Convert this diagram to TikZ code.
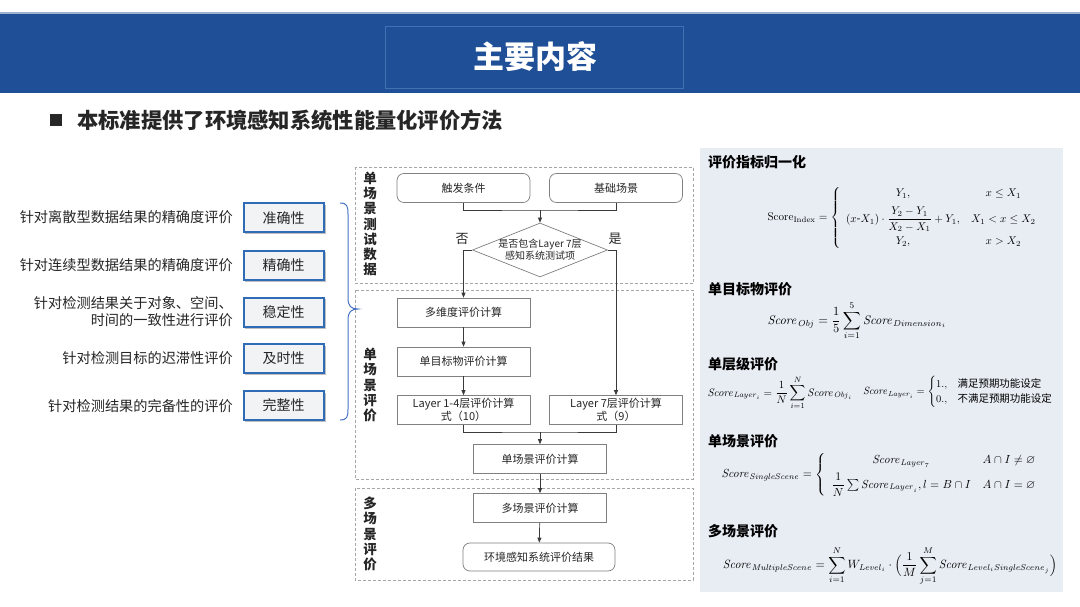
\documentclass[tikz,border=0pt]{standalone}
\usepackage[no-math]{fontspec}
\setmainfont{Noto Sans CJK SC}
\usepackage{amsmath,amssymb}
\usepackage{graphicx}
\usetikzlibrary{arrows.meta,shapes.geometric}
\definecolor{hdrblue}{HTML}{1F4F96}
\definecolor{hdrline}{HTML}{4270B3}
\definecolor{hdrtop}{HTML}{9DB3D3}
\definecolor{boxblue}{HTML}{2F6CB5}
\definecolor{boxfill}{HTML}{F2F3F5}
\definecolor{bracecol}{HTML}{4472C4}
\definecolor{panel}{HTML}{E8EDF4}
\definecolor{flowline}{HTML}{3A3A3A}
\definecolor{flowedge}{HTML}{808080}
\definecolor{dashcol}{HTML}{A6A6A6}
\definecolor{txt}{HTML}{262626}
\begin{document}
\begin{tikzpicture}[x=1pt,y=-1pt,
  fbox/.style={draw=flowedge, fill=white, line width=0.7pt, minimum width=133pt, minimum height=29pt, inner sep=1pt, font=\fontsize{11}{13}\selectfont, align=center, text=txt},
  frnd/.style={fbox, rounded corners=7pt},
  lbox/.style={draw=boxblue, line width=2pt, fill=boxfill, minimum width=80pt, minimum height=29pt, font=\fontsize{14}{16}\selectfont, text=txt},
  lshadow/.style={fill=black!25},
  ltext/.style={anchor=east, align=right, font=\fontsize{14.2}{17}\selectfont, text=txt, inner sep=0pt},
  dashbox/.style={draw=dashcol, dash pattern=on 3pt off 2pt, line width=0.8pt},
  vlabel/.style={font=\fontsize{13.5}{15.3}\selectfont\bfseries, align=center, text=txt},
  arr/.style={-{Triangle[length=5pt,width=4pt]}, draw=flowline, line width=0.7pt},
  conn/.style={draw=flowline, line width=0.7pt},
  phead/.style={anchor=west, font=\fontsize{14}{16}\selectfont\bfseries, inner sep=0pt},
  yesno/.style={font=\fontsize{13}{15}\selectfont, text=txt}]
\useasboundingbox (0,0) rectangle (1080,607);
\fill[white] (0,0) rectangle (1080,607);
% header
\fill[hdrtop] (0,12) rectangle (1080,14.5);
\fill[hdrblue] (0,14.5) rectangle (1080,93);
\draw[hdrline, line width=0.6pt] (385,26) rectangle (683,88);
\node[text=white, font=\fontsize{31}{33}\selectfont\bfseries] (title) at (535,57) {主要内容};
% subtitle
\fill[txt] (50,114) rectangle (62,126);
\node[anchor=west, font=\fontsize{21.3}{23}\selectfont\bfseries, text=txt, inner sep=0pt] (sub) at (77,120) {本标准提供了环境感知系统性能量化评价方法};
% left labels
\node[ltext] (t1) at (233,217) {针对离散型数据结果的精确度评价};
\node[ltext] (t2) at (233,265) {针对连续型数据结果的精确度评价};
\node[ltext] (t3) at (233,312) {针对检测结果关于对象、空间、\\时间的一致性进行评价};
\node[ltext] (t4) at (233,358) {针对检测目标的迟滞性评价};
\node[ltext] (t5) at (233,406) {针对检测结果的完备性的评价};
\foreach \yy in {218,265,312,358.5,405.5}{\fill[lshadow] (245,\yy-13) rectangle (326,\yy+16.5);}
\node[lbox] (b1) at (283.5,218) {准确性};
\node[lbox] (b2) at (283.5,265) {精确性};
\node[lbox] (b3) at (283.5,312) {稳定性};
\node[lbox] (b4) at (283.5,358.5) {及时性};
\node[lbox] (b5) at (283.5,405.5) {完整性};
% brace
\draw[bracecol, line width=1pt] (340,203) .. controls (347,203) and (348,206) .. (348,214)
  -- (348,298) .. controls (348,306) and (351,309) .. (358,309)
  .. controls (351,309) and (348,312) .. (348,320)
  -- (348,409) .. controls (348,417) and (347,420) .. (340,420);
% dashed groups
\draw[dashbox] (355,167.5) rectangle (693,283);
\draw[dashbox] (355,290) rectangle (693,479);
\draw[dashbox] (355,488) rectangle (693,580);
\node[vlabel] (v1) at (370,224) {单\\场\\景\\测\\试\\数\\据};
\node[vlabel] (v2) at (370,385) {单\\场\\景\\评\\价};
\node[vlabel] (v3) at (370,534) {多\\场\\景\\评\\价};
% flow nodes
\node[frnd] (trig) at (463.5,188) {触发条件};
\node[frnd] (base) at (616,188) {基础场景};
\node[diamond, draw=flowedge, fill=white, line width=0.7pt, minimum width=135pt, minimum height=54pt, inner sep=0pt] (dia) at (540,250) {};
\node[font=\fontsize{10}{12}\selectfont, align=center, text=txt] (dlab) at (dia.center) {是否包含Layer 7层\\感知系统测试项};
\node[yesno] (no) at (462,239) {否};
\node[yesno] (yes) at (615,239) {是};
\node[fbox] (multi) at (463.5,312.5) {多维度评价计算};
\node[fbox] (obj) at (463.5,361.5) {单目标物评价计算};
\node[fbox, font=\fontsize{11}{12.5}\selectfont] (l14) at (463.5,410) {Layer 1-4层评价计算\\式（10）};
\node[fbox, font=\fontsize{11}{12.5}\selectfont] (l7) at (616,410) {Layer 7层评价计算\\式（9）};
\node[fbox] (ss) at (540,459) {单场景评价计算};
\node[fbox] (ms) at (540,508) {多场景评价计算};
\node[frnd, minimum width=152pt, minimum height=28pt] (res) at (539,557) {环境感知系统评价结果};
% flow connectors
\coordinate (j1) at (540,210);
\coordinate (j2) at (540,432);
\draw[conn] (trig.south) |- (j1) -| (base.south);
\draw[arr] (j1) -- (dia.north);
\draw[arr] (dia.west) -| (multi.north);
\draw[arr] (dia.east) -| (l7.north);
\draw[arr] (multi) -- (obj);
\draw[arr] (obj) -- (l14);
\draw[conn] (l14.south) |- (j2) -| (l7.south);
\draw[arr] (j2) -- (ss.north);
\draw[arr] (ss) -- (ms);
\draw[arr] (ms) -- (res);
% right panel
\fill[panel] (700,148) rectangle (1063,592);
\node[phead] (h1) at (708,162) {评价指标归一化};
\node[phead] (h2) at (708,289) {单目标物评价};
\node[phead] (h3) at (708,364) {单层级评价};
\node[phead] (h4) at (708,441) {单场景评价};
\node[phead] (h5) at (708,531) {多场景评价};
\node[inner sep=0pt] (f1) at (905,218) {\resizebox{275pt}{!}{$\displaystyle \mathrm{Score}_{\mathrm{Index}}=\left\{\begin{array}{c@{\quad}c} Y_1, & x\le X_1\\[6pt] (x\text{-}X_1)\cdot\dfrac{Y_2-Y_1}{X_2-X_1}+Y_1, & X_1<x\le X_2\\[8pt] Y_2, & x>X_2\end{array}\right.$}};
\node[inner sep=0pt] (f2) at (857,321) {\resizebox{179pt}{!}{$\displaystyle \mathit{Score}_{\mathit{Obj}}=\frac{1}{5}\sum_{i=1}^{5}\mathit{Score}_{\mathit{Dimension}_i}$}};
\node[inner sep=0pt] (f3) at (780,393) {\resizebox{145pt}{!}{$\displaystyle \mathit{Score}_{\mathit{Layer}_i}=\frac{1}{N}\sum_{i=1}^{N}\mathit{Score}_{\mathit{Obj}_i}$}};
\node[inner sep=0pt] (f3b) at (958,392) {\resizebox{190pt}{!}{$\mathit{Score}_{\mathit{Layer}_i}=\begin{cases}1., & \text{满足预期功能设定}\\ 0., & \text{不满足预期功能设定}\end{cases}$}};
\node[inner sep=0pt] (f4) at (882,475) {\resizebox{321pt}{!}{$\displaystyle \mathit{Score}_{\mathit{SingleScene}}=\left\{\begin{array}{c@{\quad}l}\mathit{Score}_{\mathit{Layer}_7} & A\cap I\neq\varnothing\\[4pt] \dfrac{1}{N}\sum\mathit{Score}_{\mathit{Layer}_i},l=B\cap I & A\cap I=\varnothing\end{array}\right.$}};
\node[inner sep=0pt] (f5) at (890,566) {\resizebox{334pt}{!}{$\displaystyle \mathit{Score}_{\mathit{MultipleScene}}=\sum_{i=1}^{N}W_{\mathit{Level}_i}\cdot\Bigl(\frac{1}{M}\sum_{j=1}^{M}\mathit{Score}_{\mathit{Level}_i\mathit{SingleScene}_j}\Bigr)$}};
\end{tikzpicture}
\end{document}
